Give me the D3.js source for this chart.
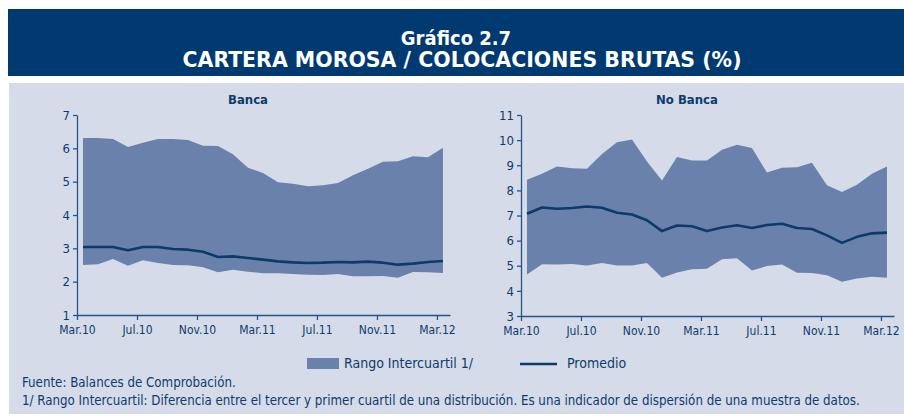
<!DOCTYPE html>
<html>
<head>
<meta charset="utf-8">
<script src="https://cdn.jsdelivr.net/npm/d3@7"></script>
<style>
  body { margin: 0; background: #fff; }
  svg text { font-family: "Liberation Sans Narrow", "DejaVu Sans Condensed", sans-serif; }
</style>
</head>
<body>
<script>
// months Mar.10 .. Mar.12 (25 points)
var tickLabels = ["Mar.10", "Jul.10", "Nov.10", "Mar.11", "Jul.11", "Nov.11", "Mar.12"];

// Banca
var bancaHigh = [6.31, 6.31, 6.28, 6.04, 6.17, 6.28, 6.28, 6.25, 6.08, 6.07, 5.82, 5.42, 5.26,
                 4.98, 4.94, 4.86, 4.89, 4.96, 5.19, 5.39, 5.60, 5.61, 5.76, 5.73, 6.02];
var bancaMean = [3.04, 3.04, 3.04, 2.94, 3.04, 3.04, 2.98, 2.96, 2.90, 2.74, 2.76, 2.71, 2.66,
                 2.61, 2.58, 2.56, 2.57, 2.59, 2.58, 2.60, 2.57, 2.51, 2.54, 2.59, 2.62];
var bancaLow  = [2.50, 2.52, 2.68, 2.48, 2.64, 2.56, 2.50, 2.49, 2.43, 2.28, 2.36, 2.30, 2.25,
                 2.25, 2.23, 2.21, 2.20, 2.23, 2.16, 2.16, 2.17, 2.12, 2.29, 2.28, 2.26];

// No Banca
var noBancaHigh = [8.42, 8.66, 8.95, 8.88, 8.86, 9.45, 9.92, 10.02, 9.15, 8.39, 9.33, 9.19, 9.19,
                   9.62, 9.82, 9.69, 8.71, 8.90, 8.92, 9.10, 8.20, 7.94, 8.22, 8.66, 8.95];
var noBancaMean = [7.07, 7.32, 7.27, 7.30, 7.36, 7.31, 7.11, 7.04, 6.81, 6.38, 6.60, 6.57, 6.38,
                   6.52, 6.61, 6.50, 6.62, 6.67, 6.50, 6.46, 6.21, 5.91, 6.15, 6.29, 6.32];
var noBancaLow  = [4.65, 5.06, 5.05, 5.07, 5.01, 5.11, 5.01, 5.01, 5.11, 4.52, 4.73, 4.86, 4.88,
                   5.26, 5.30, 4.81, 4.99, 5.05, 4.72, 4.71, 4.62, 4.36, 4.49, 4.56, 4.52];

var W = 904, H = 419;
var navy = "#003a70", text = "#0d3b6e", axisCol = "#24528a";

var svg = d3.select("body").append("svg")
    .attr("width", W).attr("height", H);

// header band
svg.append("rect").attr("x", 8).attr("y", 9).attr("width", W - 8).attr("height", 67).attr("fill", navy);
svg.append("text").attr("x", 456).attr("y", 45).attr("text-anchor", "middle")
    .attr("fill", "#fff").attr("font-weight", "bold").attr("font-size", 20).text("Gráfico 2.7");
svg.append("text").attr("x", 462).attr("y", 67).attr("text-anchor", "middle")
    .attr("fill", "#fff").attr("font-weight", "bold").attr("font-size", 21)
    .attr("textLength", 559).attr("lengthAdjust", "spacingAndGlyphs")
    .text("CARTERA MOROSA / COLOCACIONES BRUTAS (%)");

// grey-blue panel
svg.append("rect").attr("x", 9).attr("y", 83).attr("width", W - 9).attr("height", 331).attr("fill", "#d5dbe8");

function panel(opts) {
    var x = d3.scaleLinear().domain([0, 24.87]).range([opts.left, opts.left + 373]);
    var y = d3.scaleLinear().domain(opts.yDomain).range([opts.bottom, opts.top]);
    var g = svg.append("g");

    var idx = d3.range(opts.high.length);

    var area = d3.area()
        .x(function(i) { return x(i + 0.4); })
        .y0(function(i) { return y(opts.low[i]); })
        .y1(function(i) { return y(opts.high[i]); });
    g.append("path").datum(idx).attr("d", area).attr("fill", "#6a82ab");

    var line = d3.line()
        .x(function(i) { return x(i + 0.4); })
        .y(function(i) { return y(opts.mean[i]); });
    g.append("path").datum(idx).attr("d", line)
        .attr("fill", "none").attr("stroke", "#0b3a6b").attr("stroke-width", 2.6)
        .attr("stroke-linejoin", "round");

    var xAxis = g.append("g").attr("transform", "translate(0," + opts.bottom + ")")
        .call(d3.axisBottom(x).tickValues(d3.range(0, 25, 4)).tickSizeInner(5).tickSizeOuter(0)
            .tickFormat(function(d) { return tickLabels[d / 4]; }));
    var yAxis = g.append("g").attr("transform", "translate(" + opts.left + ",0)")
        .call(d3.axisLeft(y).ticks(opts.yDomain[1] - opts.yDomain[0]).tickSizeInner(4).tickSizeOuter(0)
            .tickFormat(d3.format("d")));
    [xAxis, yAxis].forEach(function(a) {
        a.selectAll("path, line").attr("stroke", axisCol).attr("stroke-width", 1.3);
        a.selectAll("text").attr("fill", text).attr("font-size", 12);
    });
    yAxis.selectAll("text").attr("font-size", 13);
    xAxis.selectAll("text").attr("dy", "0.9em");

    g.append("text").attr("x", opts.titleX).attr("y", 104).attr("text-anchor", "middle")
        .attr("fill", text).attr("font-weight", "bold").attr("font-size", 13).text(opts.title);
}

panel({ title: "Banca", titleX: 248, left: 77, top: 115, bottom: 315, yDomain: [1, 7],
        high: bancaHigh, mean: bancaMean, low: bancaLow });
panel({ title: "No Banca", titleX: 687, left: 521, top: 115, bottom: 316, yDomain: [3, 11],
        high: noBancaHigh, mean: noBancaMean, low: noBancaLow });

// legend
svg.append("rect").attr("x", 307).attr("y", 358).attr("width", 32).attr("height", 11).attr("fill", "#6a82ab");
svg.append("text").attr("x", 344).attr("y", 368).attr("fill", text).attr("font-size", 14).text("Rango Intercuartil 1/");
svg.append("line").attr("x1", 520).attr("x2", 557).attr("y1", 364).attr("y2", 364)
    .attr("stroke", "#0b3a6b").attr("stroke-width", 2.4);
svg.append("text").attr("x", 567).attr("y", 368).attr("fill", text).attr("font-size", 14).text("Promedio");

// notes
svg.append("text").attr("x", 22).attr("y", 387).attr("fill", text).attr("font-size", 13.2)
    .text("Fuente: Balances de Comprobación.");
svg.append("text").attr("x", 22).attr("y", 405).attr("fill", text).attr("font-size", 13.2)
    .text("1/ Rango Intercuartil: Diferencia entre el tercer y primer cuartil de una distribución. Es una indicador de dispersión de una muestra de datos.");
</script>
</body>
</html>
